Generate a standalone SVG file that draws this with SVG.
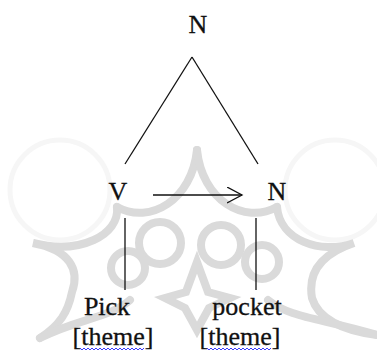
<svg xmlns="http://www.w3.org/2000/svg" width="377" height="351" viewBox="0 0 377 351">
<style>
.t{font-family:"Liberation Serif","Times New Roman",serif;font-size:26px;fill:#111;stroke:#111;stroke-width:0.3;text-anchor:middle}
.e{stroke:#111;stroke-width:1.3;fill:none}
.wm{stroke:#dadada;stroke-width:8;fill:none;stroke-linecap:round}
.wf{stroke:#f6f6f6;stroke-width:5;fill:none}
.sq{stroke:#3a3aff;stroke-width:1;fill:none}
</style>
<defs>
<marker id="open" markerWidth="20" markerHeight="20" refX="15" refY="8" orient="auto" markerUnits="userSpaceOnUse">
<path d="M0,0 L15,8 L0,16" fill="none" stroke="#111" stroke-width="1.3"/>
</marker>
</defs>
<rect width="377" height="351" fill="#fff"/>
<g id="watermark">
<circle class="wf" cx="60" cy="190" r="50"/>
<circle class="wf" cx="335" cy="190" r="50"/>
<path class="wm" d="M197,150 C192,200 150,225 117,207"/>
<path class="wm" d="M197,150 C202,200 244,225 277,207"/>
<path class="wm" d="M117,207 C120,235 80,255 33,243 C70,250 80,270 72,292 C68,312 60,325 40,338"/>
<path class="wm" d="M277,207 C280,240 320,255 354,243 C318,255 308,275 312,298 C318,318 340,330 377,335"/>
<path class="wm" d="M40,338 C80,318 110,318 130,300"/>
<path class="wm" d="M377,335 C320,318 290,318 268,300"/>
<circle class="wm" cx="160" cy="243" r="21"/>
<circle class="wm" cx="221" cy="245" r="20"/>
<circle class="wm" cx="128" cy="268" r="17"/>
<circle class="wm" cx="262" cy="262" r="17"/>
<path class="wm" d="M197,262 L186,292 L165,298 L185,308 L197,330 L209,308 L230,298 L208,292 Z"/>
</g>
<g id="connectors">
<line class="e" x1="192" y1="57" x2="125" y2="164"/>
<line class="e" x1="192" y1="57" x2="258" y2="164"/>
<line class="e" x1="153" y1="195" x2="242" y2="195" marker-end="url(#open)"/>
<line class="e" x1="125" y1="218" x2="125" y2="290"/>
<line class="e" x1="256" y1="218" x2="256" y2="290"/>
</g>
<g id="n-top"><text class="t" x="198" y="33">N</text></g>
<g id="v"><text class="t" x="118" y="200">V</text></g>
<g id="n-right"><text class="t" x="277" y="200">N</text></g>
<g id="pick">
<text class="t" x="107" y="315">Pick</text>
<text class="t" x="113" y="345">[theme]</text>
<path class="sq" d="M80,348 l2,2 l2,-2 l2,2 l2,-2 l2,2 l2,-2 l2,2 l2,-2 l2,2 l2,-2 l2,2 l2,-2 l2,2 l2,-2 l2,2 l2,-2 l2,2 l2,-2 l2,2 l2,-2 l2,2 l2,-2 l2,2 l2,-2 l2,2 l2,-2 l2,2 l2,-2 l2,2 l2,-2 l2,2 l2,-2"/>
</g>
<g id="pocket">
<text class="t" x="247" y="315">pocket</text>
<text class="t" x="240" y="345">[theme]</text>
<path class="sq" d="M207,348 l2,2 l2,-2 l2,2 l2,-2 l2,2 l2,-2 l2,2 l2,-2 l2,2 l2,-2 l2,2 l2,-2 l2,2 l2,-2 l2,2 l2,-2 l2,2 l2,-2 l2,2 l2,-2 l2,2 l2,-2 l2,2 l2,-2 l2,2 l2,-2 l2,2 l2,-2 l2,2 l2,-2 l2,2 l2,-2"/>
</g>
</svg>
